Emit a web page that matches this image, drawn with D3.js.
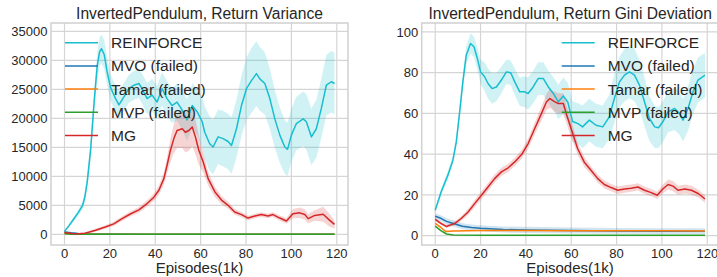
<!DOCTYPE html>
<html>
<head>
<meta charset="utf-8">
<script src="https://cdn.jsdelivr.net/npm/d3@7"></script>
<style>
  body { margin: 0; background: #fff; }
  svg text { font-family: "Liberation Sans", Arial, sans-serif; fill: #262626; }
</style>
</head>
<body>
<div id="chart"></div>
<script>
// Series names and colours (legend order)
const seriesNames = ['REINFORCE', 'MVO (failed)', 'Tamar (failed)', 'MVP (failed)', 'MG'];
const seriesColors = ['#17becf', '#1f77b4', '#ff7f0e', '#2ca02c', '#d62728'];

// Tick labels
const xTicks = [0, 20, 40, 60, 80, 100, 120];
const varianceTicks = [0, 5000, 10000, 15000, 20000, 25000, 30000, 35000];
const giniTicks = [0, 20, 40, 60, 80, 100];

// Left panel: return variance, [episode(1k), mean, half band]
const varReinforce = [
  [0,500,200],[2,1500,300],[4,2600,400],[6,3700,500],[8,5000,700],[9,6500,900],[10,9000,1200],
  [11.5,14500,1600],[13,22500,2000],[14.4,29000,2300],[15.5,31500,2500],[16.3,32000,2500],
  [17.5,31000,2500],[18.8,28000,2400],[20.3,25300,2300],[22.5,23400,2300],[24,22300,2400],
  [26.2,23700,2400],[28.4,25100,2400],[30.6,25700,2500],[32.8,26000,2500],[34.2,25100,2600],
  [36.4,23400,2700],[38.6,24000,2800],[40.8,22800,2800],[43,25100,2900],[45.2,23400,3000],
  [47.4,22200,3000],[49.6,22800,3200],[51.9,21400,3400],[54,19700,3600],[56.3,22200,3800],
  [58.5,21100,4000],[60.7,19400,4300],[61.8,17600,4500],[64,15600,4700],[65.5,15050,4700],
  [67.7,16800,4700],[69.9,16500,4800],[72.1,16000,4800],[73.6,15300,4900],[75.8,18200,5000],
  [78,22200,5200],[80.2,25100,5400],[82.4,26500,5600],[84.6,27700,5600],[86.1,26800,5500],
  [88.3,26000,5400],[90.5,23400,5200],[92.7,19900,5000],[94.9,17100,4800],[97.1,15050,4600],
  [98.3,14650,4600],[100,17100,4600],[102.2,19100,4600],[105.2,19900,4700],[106.6,19400,4800],
  [108.8,16800,4900],[111,18200,5000],[113.2,21700,5100],[115.4,25700,5200],[117.6,26300,5300],
  [119,26000,5300]
];
const varMvo = [[0,400,150],[3,250,100],[6,150,80],[10,80,60],[20,40,40],[40,20,30],[80,10,20],[119,10,20]];
const varTamar = [[0,200,60],[3,80,40],[6,30,20],[40,20,10],[119,20,10]];
const varMvp = [[0,100,30],[3,20,10],[6,5,5],[119,5,5]];
const varMg = [
  [0,300,100],[3,150,100],[6,80,100],[9,200,150],[11,400,200],[13.7,700,250],[18,1260,300],
  [21.7,1800,350],[25.4,2700,400],[29,3500,450],[32.8,4200,500],[36.4,5300,550],[39.4,6400,650],
  [41.6,7600,800],[43.8,9600,1000],[45.2,11900,1400],[46.7,14500,2000],[48.2,16500,2500],
  [49.6,17900,3000],[51.9,18200,3300],[53.3,17600,3500],[54.8,17900,3500],[56.3,18500,3300],
  [57.7,16800,3000],[59.2,14500,2500],[61.1,12500,1800],[63.3,9600,1200],[66.3,7300,900],
  [69.2,5900,700],[72.1,5000,600],[75,3850,500],[78,3400,450],[80.9,2800,400],[83.9,3150,400],
  [86.8,3400,400],[89.7,3150,400],[91.9,3400,400],[94.9,2800,450],[97.8,2300,500],[100.7,3550,800],
  [103.7,3700,900],[105.9,3400,900],[107.4,2700,800],[110.3,3250,900],[114,3450,1300],
  [116.9,2400,1100],[119,1700,700]
];

// Right panel: return Gini deviation, [episode(1k), mean, half band]
const giniReinforce = [
  [0,12.5,1],[2.65,21.5,1.5],[5.6,29.7,2],[7.8,37,2],[9.3,46,2.5],[10.8,60.8,3],[12.2,75.5,3.5],
  [13.7,88.6,4.5],[15.6,94.3,5],[17.1,92.7,5],[18.6,87,5.5],[20,80.4,6],[21.8,78,7],[23.3,74.7,7.5],
  [25.1,72.2,7.5],[27,73,7],[29.2,76.4,6.5],[31.4,80.4,6],[33.3,80,6],[35.1,75.5,6.5],[37.3,70.6,7],
  [39.5,70.6,7.5],[41,69.8,8],[43.2,73,8],[45.4,77.1,8],[47.7,77.1,8],[49.9,73,8],[52.1,69.8,8],
  [54.3,65.7,8.5],[56.5,68.6,9],[58.5,65.5,9.5],[60.6,56,10],[63,55,10],[65,53.4,10.5],[68,56.7,10.5],
  [70.9,54.2,10.5],[73.9,53.4,10.5],[76.8,58.3,11],[79,67.3,12],[81.3,75.5,12.5],[83.5,78.8,13],
  [85.7,80.4,13],[87.9,78.8,13],[90.1,73.9,12.5],[92.3,65.7,12],[94.5,57.5,11],[96.8,53.4,10.5],
  [98.5,53,10],[100.4,55.9,10],[102.7,60.8,10],[105.6,62.4,10.5],[107.8,59.9,10.5],[109.3,56.7,10.5],
  [111.5,62.4,11],[113.7,70.6,11],[115.9,76.4,11],[119,78.8,11]
];
const giniMvo = [[0,9.5,1.5],[2.5,8.5,1.5],[5,7,1.5],[8,6,1.5],[12,4.6,1.5],[16,4,1.5],[20,3.6,1.5],
  [30,3,1.5],[40,2.8,1.5],[60,2.5,1.5],[80,2.3,1.4],[100,2.2,1.4],[119,2.2,1.4]];
const giniTamar = [[0,6,0.5],[2.5,4,0.5],[4.7,2,0.4],[8,2.3,0.3],[20,2.5,0.3],[40,2.5,0.3],[60,2.4,0.3],
  [80,2.4,0.3],[100,2.4,0.3],[119,2.3,0.3]];
const giniMvp = [[0,4.7,0.4],[2.5,2.5,0.3],[5,0.8,0.2],[8,0.3,0.1],[20,0.2,0.1],[119,0.2,0.1]];
const giniMg = [
  [0,8,0.8],[2.5,6,0.8],[4.9,4.5,0.8],[8.5,5.9,1],[11.5,8.4,1.2],[14.5,11.6,1.5],[17.4,15.7,1.8],
  [20.4,19.8,2],[23.3,23.9,2],[26.2,28,2],[29.2,31.3,2],[32.2,33.3,2],[35.1,36.2,2],[38.1,39.8,2.2],
  [41,45.2,2.5],[43.9,52.6,3],[46.9,60,3.5],[49.1,65.7,4],[50.6,67.3,4.5],[52.8,65.7,5],[54.3,64.9,5],
  [56.5,64.9,5],[58,59.2,4.5],[60.4,51,4],[62.8,42.8,3],[65.7,36.2,2.5],[68.7,32.1,2],[71.7,28,2],
  [74.6,25.1,2],[77.6,23.6,1.8],[80.5,22.3,1.8],[83.5,22.9,1.8],[86.4,23.3,1.8],[89.4,23.9,1.8],
  [92.3,22.3,1.8],[95.3,21.1,1.8],[97.9,19.8,1.8],[100.4,22.9,2.2],[102.7,25.1,2.5],[104.9,24.3,2.5],
  [107.1,22.3,2.2],[110.1,22.9,2.2],[113,22.3,2.2],[116,20.7,2],[119,18,1.8]
];

const width = 717, height = 277;

const svg = d3.select('#chart').append('svg')
  .attr('width', width)
  .attr('height', height);

// Draw one subplot
function drawPanel(opts) {
  const x = d3.scaleLinear().domain([-5.95, 124.95]).range([opts.left, opts.right]);
  const y = d3.scaleLinear().domain(opts.yDomain).range([245, 23]);

  const g = svg.append('g');
  const clipId = 'clip' + opts.id;
  g.append('clipPath').attr('id', clipId)
    .append('rect')
    .attr('x', opts.left).attr('y', 23)
    .attr('width', opts.right - opts.left).attr('height', 222);

  // grid
  g.selectAll('.gx').data(xTicks).enter().append('line')
    .attr('x1', d => x(d)).attr('x2', d => x(d))
    .attr('y1', 23).attr('y2', 245)
    .attr('stroke', '#d5d5d5').attr('stroke-width', 1.2);
  g.selectAll('.gy').data(opts.yTicks).enter().append('line')
    .attr('x1', opts.left).attr('x2', opts.right)
    .attr('y1', d => y(d)).attr('y2', d => y(d))
    .attr('stroke', '#d5d5d5').attr('stroke-width', 1.2);

  const plot = g.append('g').attr('clip-path', `url(#${clipId})`);

  const area = d3.area()
    .x(d => x(d[0]))
    .y0(d => y(d[1] - d[2]))
    .y1(d => y(d[1] + d[2]));
  const line = d3.line()
    .x(d => x(d[0]))
    .y(d => y(d[1]));

  opts.series.forEach((s, i) => {
    plot.append('path').datum(s)
      .attr('d', area)
      .attr('fill', seriesColors[i])
      .attr('fill-opacity', 0.2);
  });
  opts.series.forEach((s, i) => {
    plot.append('path').datum(s)
      .attr('d', line)
      .attr('fill', 'none')
      .attr('stroke', seriesColors[i])
      .attr('stroke-width', 1.5)
      .attr('stroke-linejoin', 'round');
  });

  // frame
  g.append('rect')
    .attr('x', opts.left).attr('y', 23)
    .attr('width', opts.right - opts.left).attr('height', 222)
    .attr('fill', 'none').attr('stroke', '#d0d0d0').attr('stroke-width', 1.5);

  // tick labels
  g.selectAll('.tx').data(xTicks).enter().append('text')
    .attr('x', d => x(d)).attr('y', 258.4)
    .attr('text-anchor', 'middle')
    .style('font-size', '13px')
    .text(d => d);
  g.selectAll('.ty').data(opts.yTicks).enter().append('text')
    .attr('x', opts.left - 3.5).attr('y', d => y(d) + 4.7)
    .attr('text-anchor', 'end')
    .style('font-size', '13px')
    .text(d => d);

  // title and axis label
  const cx = (opts.left + opts.right) / 2;
  g.append('text')
    .attr('x', cx).attr('y', 19)
    .attr('text-anchor', 'middle')
    .style('font-size', '15.6px')
    .text(opts.title);
  g.append('text')
    .attr('x', cx).attr('y', 273.3)
    .attr('text-anchor', 'middle')
    .style('font-size', '15px')
    .text('Episodes(1k)');

  // legend
  const lg = g.append('g');
  seriesNames.forEach((name, i) => {
    const ly = 42.7 + i * 23.2;
    lg.append('line')
      .attr('x1', opts.legendX).attr('x2', opts.legendX + 33)
      .attr('y1', ly).attr('y2', ly)
      .attr('stroke', seriesColors[i]).attr('stroke-width', 1.5);
    lg.append('text')
      .attr('x', opts.legendX + 46).attr('y', ly + 5.5)
      .style('font-size', '15.5px')
      .text(name);
  });
}

drawPanel({
  id: 'a',
  left: 51, right: 348,
  yDomain: [-1845, 36430],
  yTicks: varianceTicks,
  title: 'InvertedPendulum, Return Variance',
  series: [varReinforce, varMvo, varTamar, varMvp, varMg],
  legendX: 65
});

drawPanel({
  id: 'b',
  left: 421.7, right: 718.5,
  yDomain: [-4.6, 104.4],
  yTicks: giniTicks,
  title: 'InvertedPendulum, Return Gini Deviation',
  series: [giniReinforce, giniMvo, giniTamar, giniMvp, giniMg],
  legendX: 561.7
});
</script>
</body>
</html>
